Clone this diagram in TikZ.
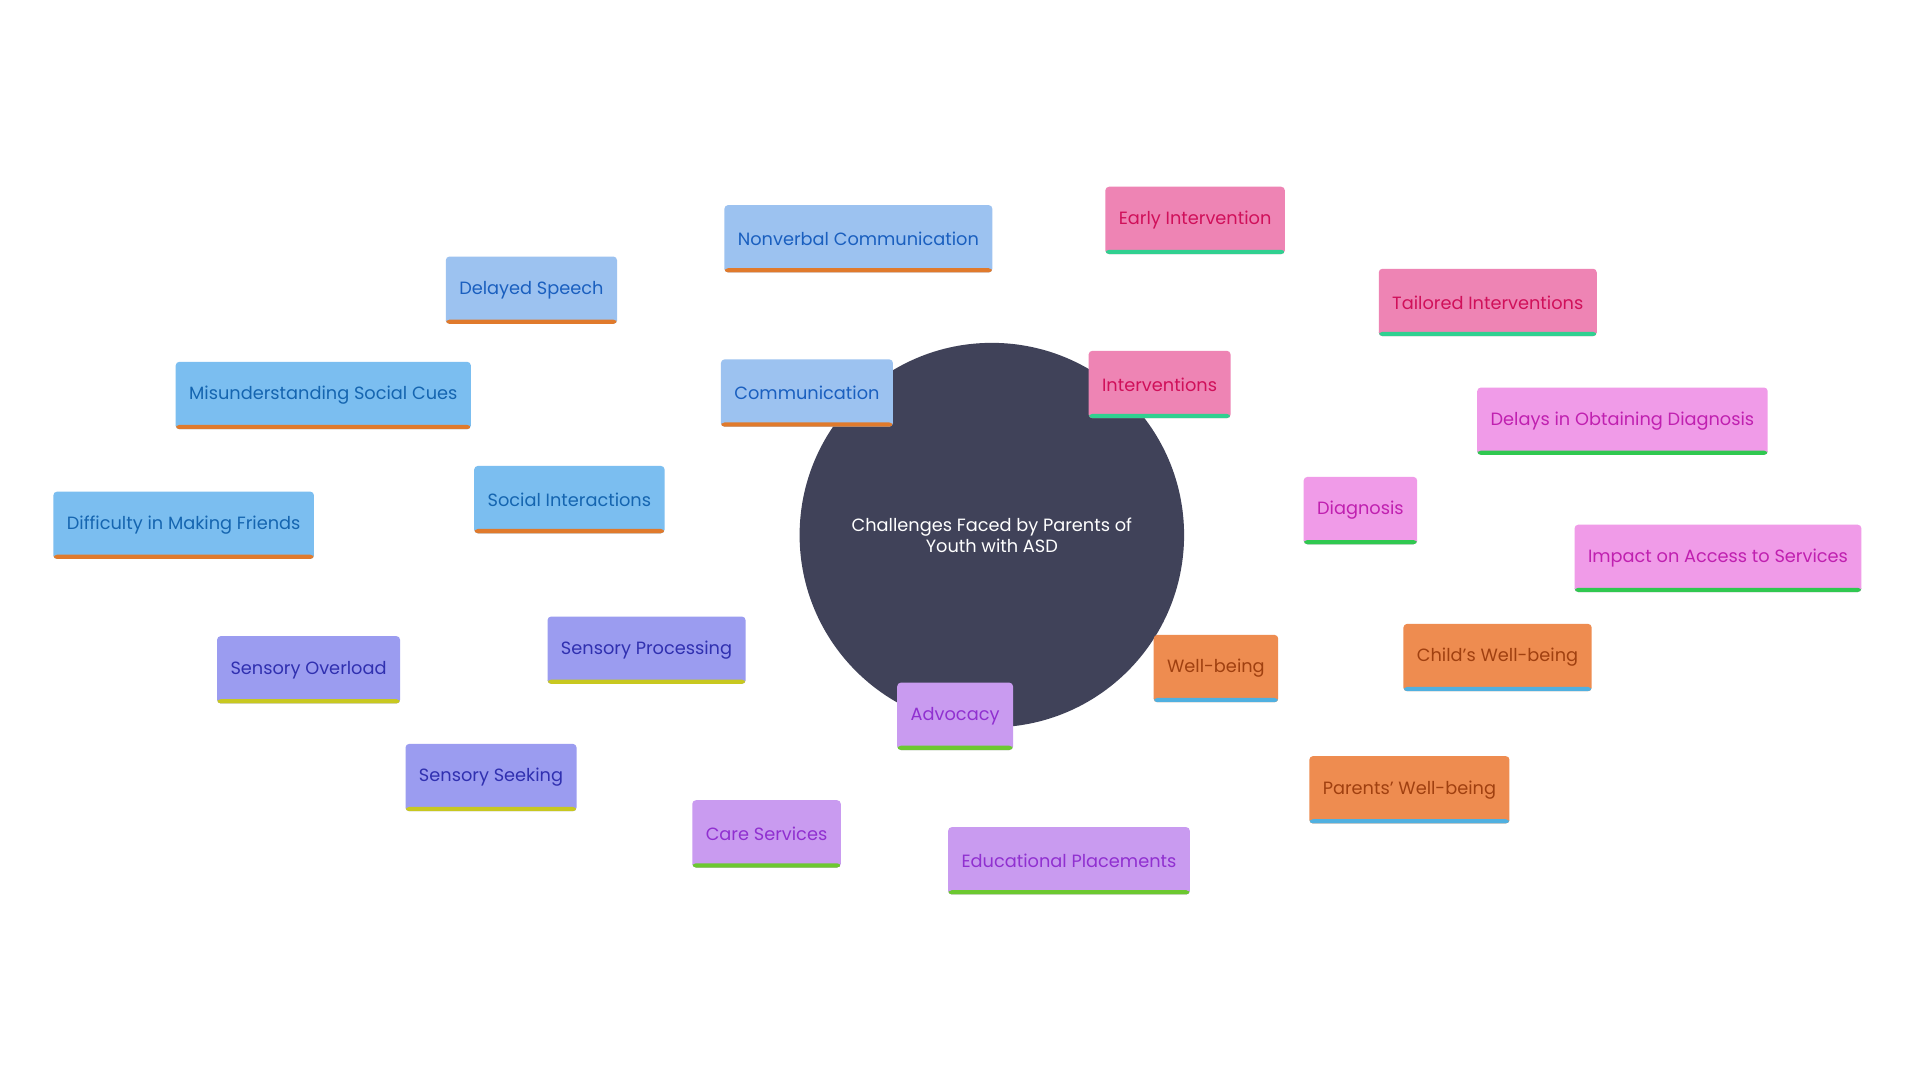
\documentclass[tikz,border=0pt]{standalone}
\usepackage{fontspec}
\setmainfont{Poppins}
\usetikzlibrary{backgrounds}
\definecolor{cen}{HTML}{404259}
\definecolor{fcom}{HTML}{9CC2F0}\definecolor{tcom}{HTML}{1A5FBF}
\definecolor{fsoc}{HTML}{7BBEF0}\definecolor{tsoc}{HTML}{1565B0}
\definecolor{bor}{HTML}{E07A2C}
\definecolor{fsen}{HTML}{9B9CF0}\definecolor{tsen}{HTML}{3030B0}\definecolor{bsen}{HTML}{C8C820}
\definecolor{fadv}{HTML}{C99BF0}\definecolor{tadv}{HTML}{9030D0}\definecolor{badv}{HTML}{6CC830}
\definecolor{fwel}{HTML}{EE8C50}\definecolor{twel}{HTML}{A04010}\definecolor{bwel}{HTML}{50B0E0}
\definecolor{fdia}{HTML}{F09BE8}\definecolor{tdia}{HTML}{C020B0}\definecolor{bdia}{HTML}{30C850}
\definecolor{fint}{HTML}{EE84B4}\definecolor{tint}{HTML}{D0105A}\definecolor{bint}{HTML}{30D090}
\tikzset{
 box/.style n args={3}{fill=#1,text=#2,rounded corners=3pt,minimum height=55pt,inner xsep=11pt,
   font=\fontsize{14.5}{17}\selectfont,
   path picture={\fill[#3] ([yshift=3.5pt]path picture bounding box.south west) rectangle (path picture bounding box.south east);}},
 com/.style={box={fcom}{tcom}{bor}}, soc/.style={box={fsoc}{tsoc}{bor}},
 sen/.style={box={fsen}{tsen}{bsen}}, adv/.style={box={fadv}{tadv}{badv}},
 wel/.style={box={fwel}{twel}{bwel}}, dia/.style={box={fdia}{tdia}{bdia}},
 int/.style={box={fint}{tint}{bint}},
 ed/.style={line width=3.5pt,draw=#1}
}
\begin{document}
\begin{tikzpicture}[x=1pt,y=-1pt]
\useasboundingbox[fill=white] (0,0) rectangle (1568,882);
\node[circle,fill=cen,minimum size=314pt,text=white,align=center,font=\fontsize{14.5}{17}\selectfont] (c) at (810,437) {Challenges Faced by Parents of\\Youth with ASD};
\node[com] (com) at (659,321) {Communication};
\node[com] (ds) at (434,237) {Delayed Speech};
\node[com] (nv) at (701,195) {Nonverbal Communication};
\node[soc] (soc) at (465,408) {Social Interactions};
\node[soc] (msc) at (264,323) {Misunderstanding Social Cues};
\node[soc] (dmf) at (150,429) {Difficulty in Making Friends};
\node[sen] (sen) at (528,531) {Sensory Processing};
\node[sen] (so) at (252,547) {Sensory Overload};
\node[sen] (ss) at (401,635) {Sensory Seeking};
\node[adv] (adv) at (780,585) {Advocacy};
\node[adv] (cs) at (626,681) {Care Services};
\node[adv] (ep) at (873,703) {Educational Placements};
\node[wel] (wel) at (993,546) {Well-being};
\node[wel] (cw) at (1223,537) {Child’s Well-being};
\node[wel] (pw) at (1151,645) {Parents’ Well-being};
\node[dia] (dia) at (1111,417) {Diagnosis};
\node[dia] (dod) at (1325,344) {Delays in Obtaining Diagnosis};
\node[dia] (ias) at (1403,456) {Impact on Access to Services};
\node[int] (int) at (947,314) {Interventions};
\node[int] (ei) at (976,180) {Early Intervention};
\node[int] (ti) at (1215,247) {Tailored Interventions};
\begin{pgfonlayer}{background}
\draw[ed=fcom] (c.center)--(com.center) (com.center)--(ds.center) (com.center)--(nv.center);
\draw[ed=fsoc] (c.center)--(soc.center) (soc.center)--(msc.center) (soc.center)--(dmf.center);
\draw[ed=fsen] (c.center)--(sen.center) (sen.center)--(so.center) (sen.center)--(ss.center);
\draw[ed=fadv] (c.center)--(adv.center) (adv.center)--(cs.center) (adv.center)--(ep.center);
\draw[ed=fwel] (c.center)--(wel.center) (wel.center)--(cw.center) (wel.center)--(pw.center);
\draw[ed=fdia] (c.center)--(dia.center) (dia.center)--(dod.center) (dia.center)--(ias.center);
\draw[ed=fint] (c.center)--(int.center) (int.center)--(ei.center) (int.center)--(ti.center);
\end{pgfonlayer}
\end{tikzpicture}
\end{document}
